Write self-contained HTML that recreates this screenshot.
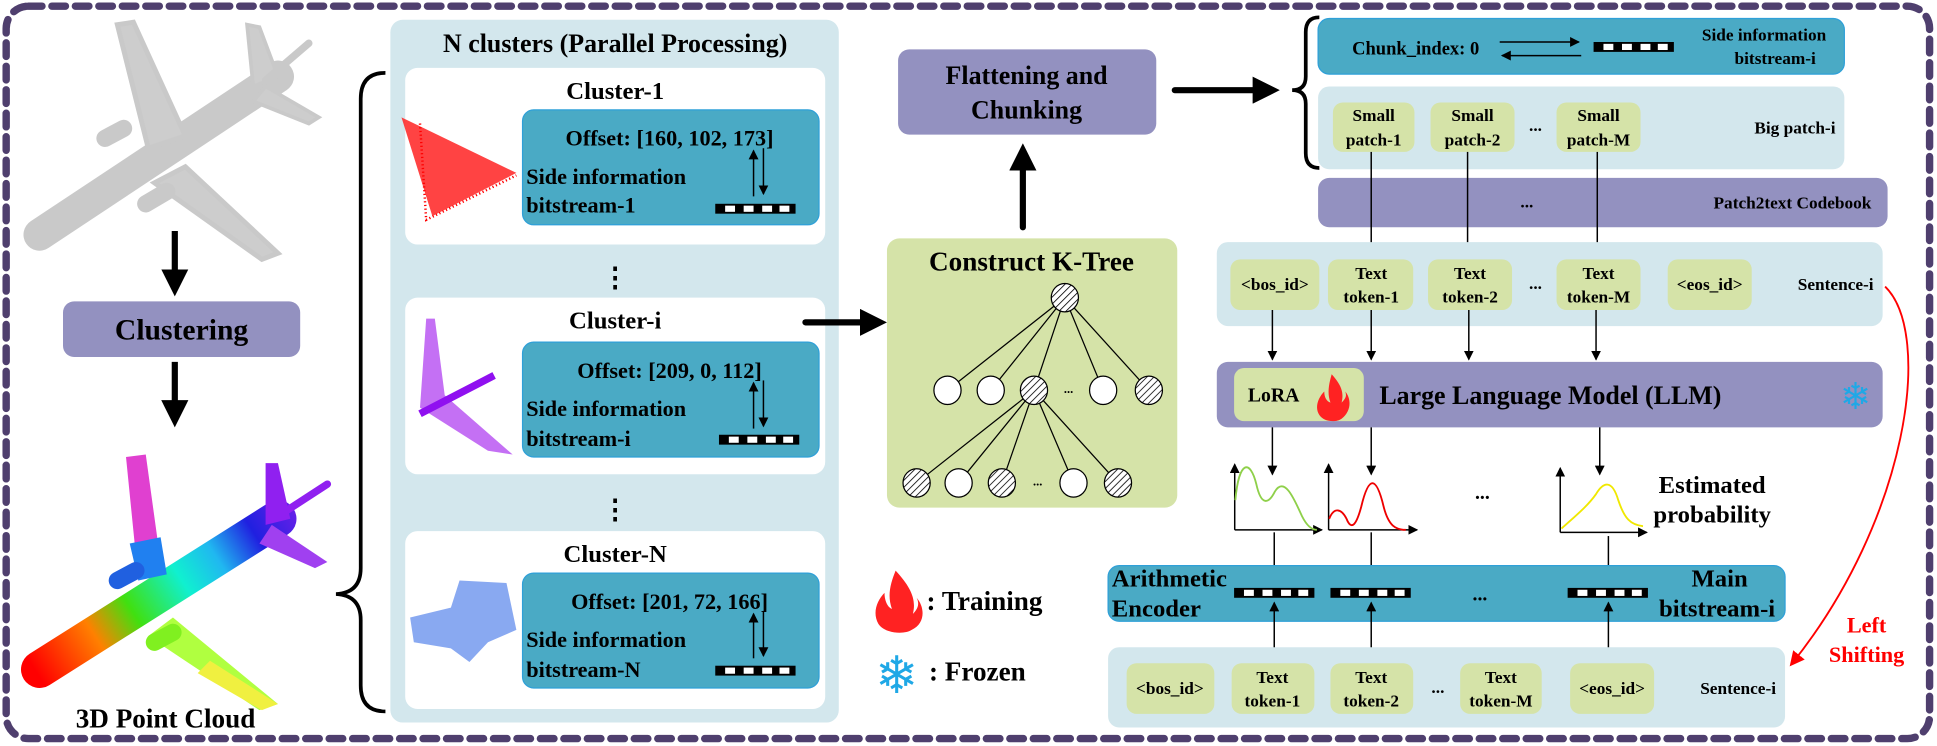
<!DOCTYPE html>
<html><head><meta charset="utf-8"><style>
html,body{margin:0;padding:0;background:#fff;}
svg{display:block;}
text{font-family:"Liberation Serif",serif;font-weight:bold;fill:#000;}
</style></head><body>
<svg width="1937" height="746" viewBox="0 0 1568 604" preserveAspectRatio="none" xmlns="http://www.w3.org/2000/svg">
<defs>
<marker id="ah" markerWidth="8" markerHeight="8" refX="7" refY="4" orient="auto" markerUnits="userSpaceOnUse"><path d="M0,0 L8,4 L0,8 z" fill="#000"/></marker>
<marker id="ahr" markerWidth="12" markerHeight="12" refX="10" refY="6" orient="auto" markerUnits="userSpaceOnUse"><path d="M0,0 L12,6 L0,12 z" fill="#f00"/></marker>
<marker id="big" markerWidth="22" markerHeight="22" refX="4" refY="11" orient="auto" markerUnits="userSpaceOnUse"><path d="M0,0 L22,11 L0,22 z" fill="#000"/></marker>
<pattern id="hatch" width="4" height="4" patternUnits="userSpaceOnUse" patternTransform="rotate(45)"><rect width="4" height="4" fill="#fff"/><line x1="0" y1="0" x2="0" y2="4" stroke="#000" stroke-width="1.3"/></pattern>
<linearGradient id="rain" x1="30" y1="545" x2="265" y2="395" gradientUnits="userSpaceOnUse">
<stop offset="0" stop-color="#f00"/><stop offset="0.2" stop-color="#ff8000"/><stop offset="0.33" stop-color="#40e010"/><stop offset="0.5" stop-color="#10f0d0"/><stop offset="0.62" stop-color="#20b8f0"/><stop offset="0.75" stop-color="#2020e0"/><stop offset="1" stop-color="#a020f0"/></linearGradient>
<g id="bar"><rect x="0" y="0" width="65" height="8" fill="#000"/><rect x="8" y="1.5" width="8" height="5" fill="#fff"/><rect x="23" y="1.5" width="8" height="5" fill="#fff"/><rect x="38" y="1.5" width="8" height="5" fill="#fff"/><rect x="52" y="1.5" width="8" height="5" fill="#fff"/></g>
</defs>

<rect x="5" y="5" width="1557" height="593" rx="18" fill="none" stroke="#4f3f6e" stroke-width="6" stroke-dasharray="11 8" stroke-linecap="round"/>

<g stroke="#c4c4c4" stroke-linecap="round" fill="none" opacity="0.9">
<line x1="32" y1="190" x2="225" y2="62" stroke-width="26"/>
<path d="M120,120 L95,20 L108,18 L150,110 z" fill="#c8c8c8" stroke-width="4"/>
<path d="M150,135 L225,205 L212,210 L125,148 z" fill="#c8c8c8" stroke-width="4"/>
<path d="M205,70 L200,20 L210,22 L225,62 z" fill="#c8c8c8" stroke-width="3"/>
<path d="M215,70 L258,95 L250,100 L205,82 z" fill="#c8c8c8" stroke-width="3"/>
<line x1="215" y1="65" x2="250" y2="35" stroke-width="6"/>
<line x1="85" y1="112" x2="100" y2="104" stroke-width="14"/>
<line x1="118" y1="165" x2="135" y2="155" stroke-width="14"/>
</g>
<g stroke-linecap="round" fill="none">
<line x1="32" y1="542" x2="225" y2="420" stroke="url(#rain)" stroke-width="30"/>
<path d="M112,470 L102,370 L118,368 L130,455 z" fill="#e040d0"/>
<path d="M112,470 L105,440 L130,435 L135,465 z" fill="#2080f0"/>
<path d="M140,500 L225,570 L210,575 L120,515 z" fill="#b0ff40"/>
<path d="M170,535 L225,570 L212,575 L160,545 z" fill="#f0f040"/>
<path d="M215,425 L215,375 L225,375 L235,420 z" fill="#9020f0"/>
<path d="M220,425 L265,455 L255,460 L210,440 z" fill="#a040f0"/>
<line x1="225" y1="418" x2="265" y2="392" stroke="#9020f0" stroke-width="6"/>
<line x1="95" y1="470" x2="110" y2="462" stroke="#2060e0" stroke-width="14"/>
<line x1="125" y1="520" x2="140" y2="512" stroke="#80f020" stroke-width="14"/>
</g>

<line x1="141.5" y1="187" x2="141.5" y2="222" stroke="#000" stroke-width="5" marker-end="url(#big)"/>
<rect x="51" y="244" width="192" height="45" rx="9" fill="#9391c0"/>
<text x="147" y="275" font-size="24" text-anchor="middle">Clustering</text>
<line x1="141.5" y1="293" x2="141.5" y2="328" stroke="#000" stroke-width="5" marker-end="url(#big)"/>
<text x="134" y="589" font-size="22" text-anchor="middle">3D Point Cloud</text>

<path d="M312,59 Q292,59 292,80 L292,460 Q292,480 272,481 Q292,482 292,502 L292,555 Q292,576 312,576" fill="none" stroke="#000" stroke-width="3"/>

<rect x="316" y="16" width="363" height="569" rx="10" fill="#d3e7ed"/>
<text x="498" y="42" font-size="21" text-anchor="middle">N clusters (Parallel Processing)</text>

<rect x="328" y="55" width="340" height="143" rx="10" fill="#fff"/>
<text x="498" y="80" font-size="20" text-anchor="middle">Cluster-1</text>
<rect x="423" y="89" width="240" height="93" rx="9" fill="#4aaac5" stroke="#2fa0d8" stroke-width="1"/>
<text x="542" y="118" font-size="18" text-anchor="middle">Offset: [160, 102, 173]</text>
<text x="426" y="149" font-size="18">Side information</text>
<text x="426" y="172" font-size="18">bitstream-1</text>
<use href="#bar" x="579" y="165"/>
<line x1="610" y1="159" x2="610" y2="122" stroke="#000" stroke-width="1.2" marker-end="url(#ah)"/>
<line x1="618" y1="120" x2="618" y2="157" stroke="#000" stroke-width="1.2" marker-end="url(#ah)"/>
<path d="M325,95 L350,175 L418,140 Z" fill="#f22" opacity="0.85"/>
<path d="M340,100 L345,178 L418,142" fill="none" stroke="#f00" stroke-width="2" stroke-dasharray="1 2"/>

<text x="498" y="232" font-size="22" text-anchor="middle">⋮</text>

<rect x="328" y="241" width="340" height="143" rx="10" fill="#fff"/>
<text x="498" y="266" font-size="20" text-anchor="middle">Cluster-i</text>
<rect x="423" y="277" width="240" height="93" rx="9" fill="#4aaac5" stroke="#2fa0d8" stroke-width="1"/>
<text x="542" y="306" font-size="18" text-anchor="middle">Offset: [209, 0, 112]</text>
<text x="426" y="337" font-size="18">Side information</text>
<text x="426" y="361" font-size="18">bitstream-i</text>
<use href="#bar" x="582" y="352"/>
<line x1="610" y1="347" x2="610" y2="310" stroke="#000" stroke-width="1.2" marker-end="url(#ah)"/>
<line x1="618" y1="308" x2="618" y2="345" stroke="#000" stroke-width="1.2" marker-end="url(#ah)"/>
<path d="M345,258 L340,330 L395,365 L415,368 L360,320 L352,258 z" fill="#b040f0" opacity="0.75"/>
<line x1="340" y1="335" x2="400" y2="304" stroke="#9010f0" stroke-width="6"/>

<text x="498" y="420" font-size="22" text-anchor="middle">⋮</text>

<rect x="328" y="430" width="340" height="144" rx="10" fill="#fff"/>
<text x="498" y="455" font-size="20" text-anchor="middle">Cluster-N</text>
<rect x="423" y="464" width="240" height="93" rx="9" fill="#4aaac5" stroke="#2fa0d8" stroke-width="1"/>
<text x="542" y="493" font-size="18" text-anchor="middle">Offset: [201, 72, 166]</text>
<text x="426" y="524" font-size="18">Side information</text>
<text x="426" y="548" font-size="18">bitstream-N</text>
<use href="#bar" x="579" y="539"/>
<line x1="610" y1="533" x2="610" y2="497" stroke="#000" stroke-width="1.2" marker-end="url(#ah)"/>
<line x1="618" y1="495" x2="618" y2="531" stroke="#000" stroke-width="1.2" marker-end="url(#ah)"/>
<path d="M372,470 L410,472 L418,510 L395,520 L380,536 L365,525 L335,520 L332,500 L365,492 z" fill="#3a70e8" opacity="0.6"/>

<line x1="652" y1="261" x2="700" y2="261" stroke="#000" stroke-width="5" stroke-linecap="round" marker-end="url(#big)"/>

<rect x="718" y="193" width="235" height="218" rx="10" fill="#d5e3a8"/>
<text x="835" y="219" font-size="22" text-anchor="middle">Construct K-Tree</text>
<g stroke="#000" stroke-width="1">
<line x1="862" y1="241" x2="767" y2="316"/><line x1="862" y1="241" x2="802" y2="316"/><line x1="862" y1="241" x2="837" y2="316"/><line x1="862" y1="241" x2="893" y2="316"/><line x1="862" y1="241" x2="930" y2="316"/>
<line x1="837" y1="316" x2="742" y2="391"/><line x1="837" y1="316" x2="776" y2="391"/><line x1="837" y1="316" x2="811" y2="391"/><line x1="837" y1="316" x2="869" y2="391"/><line x1="837" y1="316" x2="905" y2="391"/>
<ellipse cx="862" cy="241" rx="11" ry="11.5" fill="url(#hatch)"/>
<ellipse cx="767" cy="316" rx="11" ry="11.5" fill="#fff"/>
<ellipse cx="802" cy="316" rx="11" ry="11.5" fill="#fff"/>
<ellipse cx="837" cy="316" rx="11" ry="11.5" fill="url(#hatch)"/>
<ellipse cx="893" cy="316" rx="11" ry="11.5" fill="#fff"/>
<ellipse cx="930" cy="316" rx="11" ry="11.5" fill="url(#hatch)"/>
<ellipse cx="742" cy="391" rx="11" ry="11.5" fill="url(#hatch)"/>
<ellipse cx="776" cy="391" rx="11" ry="11.5" fill="#fff"/>
<ellipse cx="811" cy="391" rx="11" ry="11.5" fill="url(#hatch)"/>
<ellipse cx="869" cy="391" rx="11" ry="11.5" fill="#fff"/>
<ellipse cx="905" cy="391" rx="11" ry="11.5" fill="url(#hatch)"/>
</g>
<text x="865" y="318" font-size="10" text-anchor="middle">...</text>
<text x="840" y="393" font-size="10" text-anchor="middle">...</text>

<line x1="828" y1="184" x2="828" y2="134" stroke="#000" stroke-width="5" stroke-linecap="round" marker-end="url(#big)"/>
<rect x="727" y="40" width="209" height="69" rx="9" fill="#9391c0"/>
<text x="831" y="68" font-size="21" text-anchor="middle">Flattening and</text>
<text x="831" y="96" font-size="21" text-anchor="middle">Chunking</text>
<line x1="951" y1="73" x2="1018" y2="73" stroke="#000" stroke-width="5" stroke-linecap="round" marker-end="url(#big)"/>

<path d="M1068,14 Q1057,14 1057,26 L1057,62 Q1057,73 1046,73 Q1057,73 1057,84 L1057,124 Q1057,136 1068,136" fill="none" stroke="#000" stroke-width="3"/>

<rect x="1067" y="15" width="426" height="45" rx="9" fill="#4aaac5" stroke="#2fa0d8" stroke-width="1"/>
<text x="1146" y="44" font-size="15" text-anchor="middle">Chunk_index: 0</text>
<line x1="1214" y1="34" x2="1278" y2="34" stroke="#000" stroke-width="1.2" marker-end="url(#ah)"/>
<line x1="1280" y1="45" x2="1216" y2="45" stroke="#000" stroke-width="1.2" marker-end="url(#ah)"/>
<use href="#bar" x="1290" y="34"/>
<text x="1428" y="33" font-size="14" text-anchor="middle">Side information</text>
<text x="1437" y="52" font-size="14" text-anchor="middle">bitstream-i</text>

<rect x="1067" y="70" width="426" height="67" rx="9" fill="#d3e7ed"/>
<rect x="1079" y="83" width="66" height="40" rx="8" fill="#d5e3a8"/>
<rect x="1158" y="83" width="68" height="40" rx="8" fill="#d5e3a8"/>
<rect x="1260" y="83" width="68" height="40" rx="8" fill="#d5e3a8"/>
<g font-size="14" text-anchor="middle">
<text x="1112" y="98">Small</text><text x="1112" y="118">patch-1</text>
<text x="1192" y="98">Small</text><text x="1192" y="118">patch-2</text>
<text x="1294" y="98">Small</text><text x="1294" y="118">patch-M</text>
</g>
<text x="1243" y="106" font-size="14" text-anchor="middle">...</text>
<text x="1453" y="108" font-size="14" text-anchor="middle">Big patch-i</text>

<rect x="1067" y="144" width="461" height="40" rx="9" fill="#9391c0"/>
<text x="1236" y="168" font-size="14" text-anchor="middle">...</text>
<text x="1451" y="169" font-size="14" text-anchor="middle">Patch2text Codebook</text>

<g stroke="#000" stroke-width="1.2">
<line x1="1110" y1="123" x2="1110" y2="208" marker-end="url(#ah)"/>
<line x1="1188" y1="123" x2="1188" y2="208" marker-end="url(#ah)"/>
<line x1="1293" y1="123" x2="1293" y2="206" marker-end="url(#ah)"/>
</g>

<rect x="985" y="196" width="539" height="68" rx="9" fill="#d3e7ed"/>
<g fill="#d5e3a8">
<rect x="996" y="210" width="72" height="41" rx="8"/><rect x="1075" y="210" width="69" height="41" rx="8"/><rect x="1156" y="210" width="68" height="41" rx="8"/><rect x="1260" y="210" width="68" height="41" rx="8"/><rect x="1350" y="210" width="68" height="41" rx="8"/>
</g>
<g font-size="14" text-anchor="middle">
<text x="1032" y="235">&lt;bos_id&gt;</text>
<text x="1110" y="226">Text</text><text x="1110" y="245">token-1</text>
<text x="1190" y="226">Text</text><text x="1190" y="245">token-2</text>
<text x="1294" y="226">Text</text><text x="1294" y="245">token-M</text>
<text x="1384" y="235">&lt;eos_id&gt;</text>
<text x="1243" y="234">...</text>
<text x="1486" y="235">Sentence-i</text>
</g>
<g stroke="#000" stroke-width="1.2">
<line x1="1030" y1="251" x2="1030" y2="291" marker-end="url(#ah)"/>
<line x1="1110" y1="251" x2="1110" y2="291" marker-end="url(#ah)"/>
<line x1="1189" y1="251" x2="1189" y2="291" marker-end="url(#ah)"/>
<line x1="1292" y1="251" x2="1292" y2="291" marker-end="url(#ah)"/>
</g>

<rect x="985" y="293" width="539" height="53" rx="9" fill="#9391c0"/>
<rect x="999" y="298" width="105" height="43" rx="8" fill="#d5e3a8"/>
<text x="1031" y="325" font-size="16" text-anchor="middle">LoRA</text>
<path d="M1078,303 C1086,312 1088,318 1086,326 C1090,322 1090,320 1089,317 C1094,323 1094,333 1086,339 C1082,342 1072,342 1068,336 C1064,330 1067,322 1072,317 C1072,322 1074,325 1077,326 C1074,318 1076,310 1078,303 z" fill="#f22"/>
<text x="1255" y="327" font-size="21" text-anchor="middle">Large Language Model (LLM)</text>
<text x="1502" y="331" font-size="30" text-anchor="middle" style="font-family:'DejaVu Sans',sans-serif;fill:#1fa8e6">❄</text>

<g stroke="#000" stroke-width="1.2">
<line x1="1030" y1="346" x2="1030" y2="384" marker-end="url(#ah)"/>
<line x1="1110" y1="346" x2="1110" y2="384" marker-end="url(#ah)"/>
<line x1="1295" y1="346" x2="1295" y2="384" marker-end="url(#ah)"/>
</g>

<g stroke="#000" stroke-width="1.2" fill="none">
<path d="M999.5,429 L999.5,376" marker-end="url(#ah)"/><path d="M999.5,429 L1070,429" marker-end="url(#ah)"/>
<path d="M1075.5,429 L1075.5,376" marker-end="url(#ah)"/><path d="M1075.5,429 L1147,429" marker-end="url(#ah)"/>
<path d="M1263,431 L1263,379" marker-end="url(#ah)"/><path d="M1263,431 L1333,431" marker-end="url(#ah)"/>
</g>
<path d="M1000,405 C1003,372 1012,372 1017,392 C1021,410 1027,408 1032,398 C1040,385 1048,405 1054,418 C1058,426 1062,429 1066,429" fill="none" stroke="#8fd04a" stroke-width="1.5"/>
<path d="M1076,420 C1080,410 1086,412 1090,420 C1094,430 1098,425 1102,410 C1108,385 1114,385 1120,410 C1124,426 1130,429 1138,429" fill="none" stroke="#e00" stroke-width="1.5"/>
<path d="M1264,428 C1275,418 1285,410 1292,400 C1298,390 1305,388 1310,405 C1315,420 1320,425 1330,426" fill="none" stroke="#f0e800" stroke-width="1.5"/>
<text x="1200" y="404" font-size="16" text-anchor="middle">...</text>
<text x="1386" y="399" font-size="20" text-anchor="middle">Estimated</text>
<text x="1386" y="423" font-size="20" text-anchor="middle">probability</text>

<g stroke="#000" stroke-width="1.2">
<line x1="1031.5" y1="431" x2="1031.5" y2="472" marker-end="url(#ah)"/>
<line x1="1110" y1="431" x2="1110" y2="472" marker-end="url(#ah)"/>
<line x1="1302" y1="434" x2="1302" y2="472" marker-end="url(#ah)"/>
</g>

<rect x="897" y="458" width="548" height="45" rx="9" fill="#4aaac5" stroke="#2fa0d8" stroke-width="1"/>
<text x="900" y="475" font-size="20">Arithmetic</text>
<text x="900" y="499" font-size="20">Encoder</text>
<use href="#bar" x="999" y="476"/><use href="#bar" x="1077" y="476"/><use href="#bar" x="1269" y="476"/>
<text x="1198" y="486" font-size="16" text-anchor="middle">...</text>
<text x="1392" y="475" font-size="20" text-anchor="middle">Main</text>
<text x="1390" y="499" font-size="20" text-anchor="middle">bitstream-i</text>

<g stroke="#000" stroke-width="1.2">
<line x1="1031.5" y1="531" x2="1031.5" y2="488" marker-end="url(#ah)"/>
<line x1="1110" y1="531" x2="1110" y2="488" marker-end="url(#ah)"/>
<line x1="1302" y1="531" x2="1302" y2="488" marker-end="url(#ah)"/>
</g>

<rect x="897" y="524" width="548" height="65" rx="9" fill="#d3e7ed"/>
<g fill="#d5e3a8">
<rect x="912" y="537" width="71" height="41" rx="8"/><rect x="997" y="537" width="67" height="41" rx="8"/><rect x="1077" y="537" width="67" height="41" rx="8"/><rect x="1182" y="537" width="66" height="41" rx="8"/><rect x="1271" y="537" width="68" height="41" rx="8"/>
</g>
<g font-size="14" text-anchor="middle">
<text x="947" y="562">&lt;bos_id&gt;</text>
<text x="1030" y="553">Text</text><text x="1030" y="572">token-1</text>
<text x="1110" y="553">Text</text><text x="1110" y="572">token-2</text>
<text x="1215" y="553">Text</text><text x="1215" y="572">token-M</text>
<text x="1305" y="562">&lt;eos_id&gt;</text>
<text x="1164" y="561">...</text>
<text x="1407" y="562">Sentence-i</text>
</g>

<path d="M1526,232 C1565,270 1545,420 1450,538" fill="none" stroke="#f00" stroke-width="1.5" marker-end="url(#ahr)"/>
<text x="1511" y="512" font-size="18" text-anchor="middle" style="fill:#f00">Left</text>
<text x="1511" y="536" font-size="18" text-anchor="middle" style="fill:#f00">Shifting</text>

<path d="M725,462 C737,475 742,485 739,497 C744,492 744,488 742,484 C749,492 749,505 738,510 C732,514 716,513 711,505 C706,496 710,486 716,480 C716,487 719,492 722,493 C718,482 721,472 725,462 z" fill="#f22"/>
<text x="750" y="494" font-size="22">: Training</text>
<text x="726" y="561" font-size="42" text-anchor="middle" style="font-family:'DejaVu Sans',sans-serif;fill:#1fa8e6">❄</text>
<text x="752" y="551" font-size="22">: Frozen</text>
</svg>
</body></html>
